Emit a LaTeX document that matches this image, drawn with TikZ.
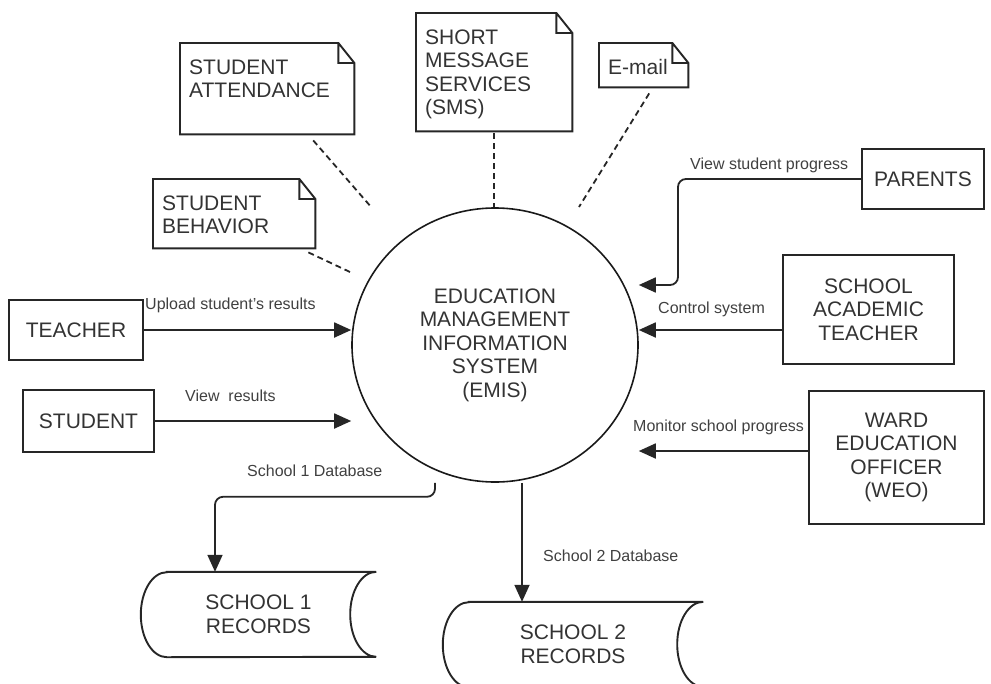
\documentclass[tikz,border=0pt]{standalone}
\usepackage{fontspec}
\setmainfont{Liberation Sans}
\usetikzlibrary{arrows.meta,shapes.geometric}

\newcommand{\boxfont}{\fontsize{21pt}{23.5pt}\selectfont}
\newcommand{\lblfont}{\fontsize{16pt}{18pt}\selectfont}

\tikzset{
  entity/.style={draw=black!85, line width=1.9pt, text=black!80, font=\boxfont, align=center, inner sep=0pt},
  notebox/.style={text=black!80, font=\boxfont, align=left, inner xsep=9pt, inner ysep=0pt, text height=31pt, anchor=north west},
  store/.style={text=black!80, font=\boxfont, align=center, inner sep=0pt},
  flow/.style={line width=1.8pt, draw=black!85, -{Triangle[length=17pt,width=15pt]}},
  assoc/.style={line width=1.8pt, draw=black!85, dash pattern=on 6pt off 4pt},
  lbl/.style={font=\lblfont, text=black!75, inner sep=0pt, anchor=base west}
}

\begin{document}
\begin{tikzpicture}[x=1pt, y=-1pt]
\useasboundingbox (0,0) rectangle (991,683);

\node[draw=black!90, line width=1.6pt, ellipse, minimum width=286pt, minimum height=274pt, inner sep=0pt,
  text=black!80, font=\boxfont, align=center] (emis) at (495,345) {EDUCATION\\MANAGEMENT\\INFORMATION\\SYSTEM\\(EMIS)};

\node[entity, minimum width=134pt, minimum height=60pt] (teacher) at (76,330) {TEACHER};
\node[entity, minimum width=131pt, minimum height=62pt] (student) at (88.5,421) {STUDENT};
\node[entity, minimum width=122pt, minimum height=60pt] (parents) at (923,179) {PARENTS};
\node[entity, minimum width=171pt, minimum height=109pt] (sat) at (868.5,309.5) {SCHOOL\\ACADEMIC\\TEACHER};
\node[entity, minimum width=175pt, minimum height=133pt] (weo) at (896.5,457.5) {WARD\\EDUCATION\\OFFICER\\(WEO)};

% notes
\node[notebox, text width=156pt, text depth=60pt] (att) at (180,43) {STUDENT\\ATTENDANCE};
\node[notebox, text width=144pt, text depth=38pt] (beh) at (153,179) {STUDENT\\BEHAVIOR};
\node[notebox, text width=138pt, text depth=87pt] (sms) at (416,13) {SHORT\\MESSAGE\\SERVICES\\(SMS)};
\node[notebox, text width=71pt, text depth=13pt] (mail) at (599,43) {E-mail};
\foreach \n in {att,beh,sms,mail}
  \draw[line width=1.9pt, draw=black!85] (\n.north west) -- ([xshift=-16pt]\n.north east) -- ([yshift=-20pt]\n.north east)
    -- (\n.south east) -- (\n.south west) -- cycle
    ([xshift=-16pt]\n.north east) |- ([yshift=-20pt]\n.north east);

% data stores
\node[store, minimum width=235pt, minimum height=85pt] (rec1) at (258.5,614.5) {SCHOOL 1\\RECORDS};
\node[store, minimum width=260pt, minimum height=85pt] (rec2) at (573,644.5) {SCHOOL 2\\RECORDS};
\foreach \n in {rec1,rec2}
  \draw[line width=1.9pt, draw=black!85] ([xshift=26pt]\n.north west) -- (\n.north east)
    arc[start angle=90, end angle=270, x radius=26pt, y radius=42.5pt]
    -- ([xshift=26pt]\n.south west)
    arc[start angle=270, end angle=90, x radius=26pt, y radius=42.5pt] -- cycle;

% dotted links
\coordinate (attEnd) at (372,208);
\coordinate (behEnd) at (350,272);
\coordinate (mailEnd) at (579,207);
\draw[assoc] ([shift={(46,6)}]att.south) -- (attEnd);
\draw[assoc] ([shift={(-7,4)}]beh.south east) -- (behEnd);
\draw[assoc] ([yshift=-2pt]sms.south) -- (sms.south |- emis.north);
\draw[assoc] ([shift={(5.5,6)}]mail.south) -- (mailEnd);

% flows
\coordinate (pbend) at (678,285);
\coordinate (ctl) at ([yshift=-20.5pt]sat.west);
\coordinate (mon) at ([yshift=6.5pt]weo.west);
\draw[flow] (teacher.east) -- (teacher.east -| emis.west);
\draw[flow] (student.east) -- (student.east -| emis.west);
\draw[flow, rounded corners=8pt] (parents.west) -| (pbend) -- (pbend -| emis.east);
\draw[flow] (ctl) -- (ctl -| emis.east);
\draw[flow] (mon) -- (mon -| emis.east);
\draw[flow, rounded corners=8pt] ([xshift=-60pt]emis.south) -- ++(0,14) -| ([xshift=-43.5pt]rec1.north);
\draw[flow] ([xshift=27pt]emis.south) -- ([xshift=-51pt]rec2.north);

\node[lbl] (lUpload) at (145,309) {Upload student's results};
\node[lbl] (lView) at (185,401) {View~ results};
\node[lbl] (lProg) at (690,169) {View student progress};
\node[lbl] (lCtl) at (658,313) {Control system};
\node[lbl] (lMon) at (633,431) {Monitor school progress};
\node[lbl] (lDb1) at (247,476) {School 1 Database};
\node[lbl] (lDb2) at (543,561) {School 2 Database};
\end{tikzpicture}
\end{document}
